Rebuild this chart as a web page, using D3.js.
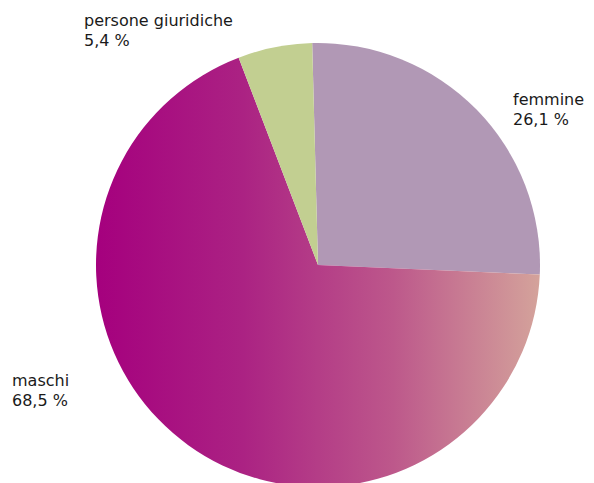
<!DOCTYPE html>
<html>
<head>
  <meta charset="utf-8">
  <script src="https://cdnjs.cloudflare.com/ajax/libs/d3/7.8.5/d3.min.js"></script>
  <style>
    body { margin: 0; background: #ffffff; }
    svg { display: block; }
    .lbl { font-family: "DejaVu Sans", Verdana, sans-serif; font-size: 16px; fill: #1a1a1a; }
  </style>
</head>
<body>
<div id="chart"></div>
<script>
// data (clockwise from the top)
var categories = ['femmine', 'maschi', 'persone giuridiche'];
var shares = [26.1, 68.5, 5.4];
var shareText = ['26,1 %', '68,5 %', '5,4 %'];

var width = 594, height = 483;
var cx = 318, cy = 265, radius = 222;

var svg = d3.select('#chart').append('svg')
    .attr('width', width)
    .attr('height', height);

// horizontal gradient used on the big slice (coords are inside the centred group)
var defs = svg.append('defs');
var grad = defs.append('linearGradient')
    .attr('id', 'gradMaschi')
    .attr('gradientUnits', 'userSpaceOnUse')
    .attr('x1', -radius).attr('y1', 0)
    .attr('x2', radius).attr('y2', 0);
grad.append('stop').attr('offset', '0%').attr('stop-color', '#a5007e');
grad.append('stop').attr('offset', '33%').attr('stop-color', '#ab2283');
grad.append('stop').attr('offset', '67%').attr('stop-color', '#bd588b');
grad.append('stop').attr('offset', '100%').attr('stop-color', '#d4a39b');

var fills = {
    'femmine': '#b198b5',
    'maschi': 'url(#gradMaschi)',
    'persone giuridiche': '#c2cf91'
};

var startDeg = -1.5;
var pie = d3.pie()
    .sort(null)
    .value(function(d) { return d.value; })
    .startAngle(startDeg * Math.PI / 180)
    .endAngle((startDeg + 360) * Math.PI / 180);

var arc = d3.arc().innerRadius(0).outerRadius(radius);

var rows = categories.map(function(c, i) {
    return { name: c, value: shares[i], text: shareText[i] };
});
var arcs = pie(rows);

var g = svg.append('g').attr('transform', 'translate(' + cx + ',' + cy + ')');

g.selectAll('path')
    .data(arcs)
    .enter()
    .append('path')
    .attr('d', arc)
    .style('fill', function(d) { return fills[d.data.name]; });

// label placement (Excel puts them freely outside the pie)
var labelPos = {
    'femmine': [513, 105],
    'maschi': [12, 386],
    'persone giuridiche': [84, 26]
};

var labels = svg.selectAll('text.lbl')
    .data(rows)
    .enter()
    .append('text')
    .attr('class', 'lbl')
    .attr('x', function(d) { return labelPos[d.name][0]; })
    .attr('y', function(d) { return labelPos[d.name][1]; });

labels.append('tspan')
    .attr('x', function(d) { return labelPos[d.name][0]; })
    .text(function(d) { return d.name; });
labels.append('tspan')
    .attr('x', function(d) { return labelPos[d.name][0]; })
    .attr('dy', 20)
    .text(function(d) { return d.text; });
</script>
</body>
</html>
